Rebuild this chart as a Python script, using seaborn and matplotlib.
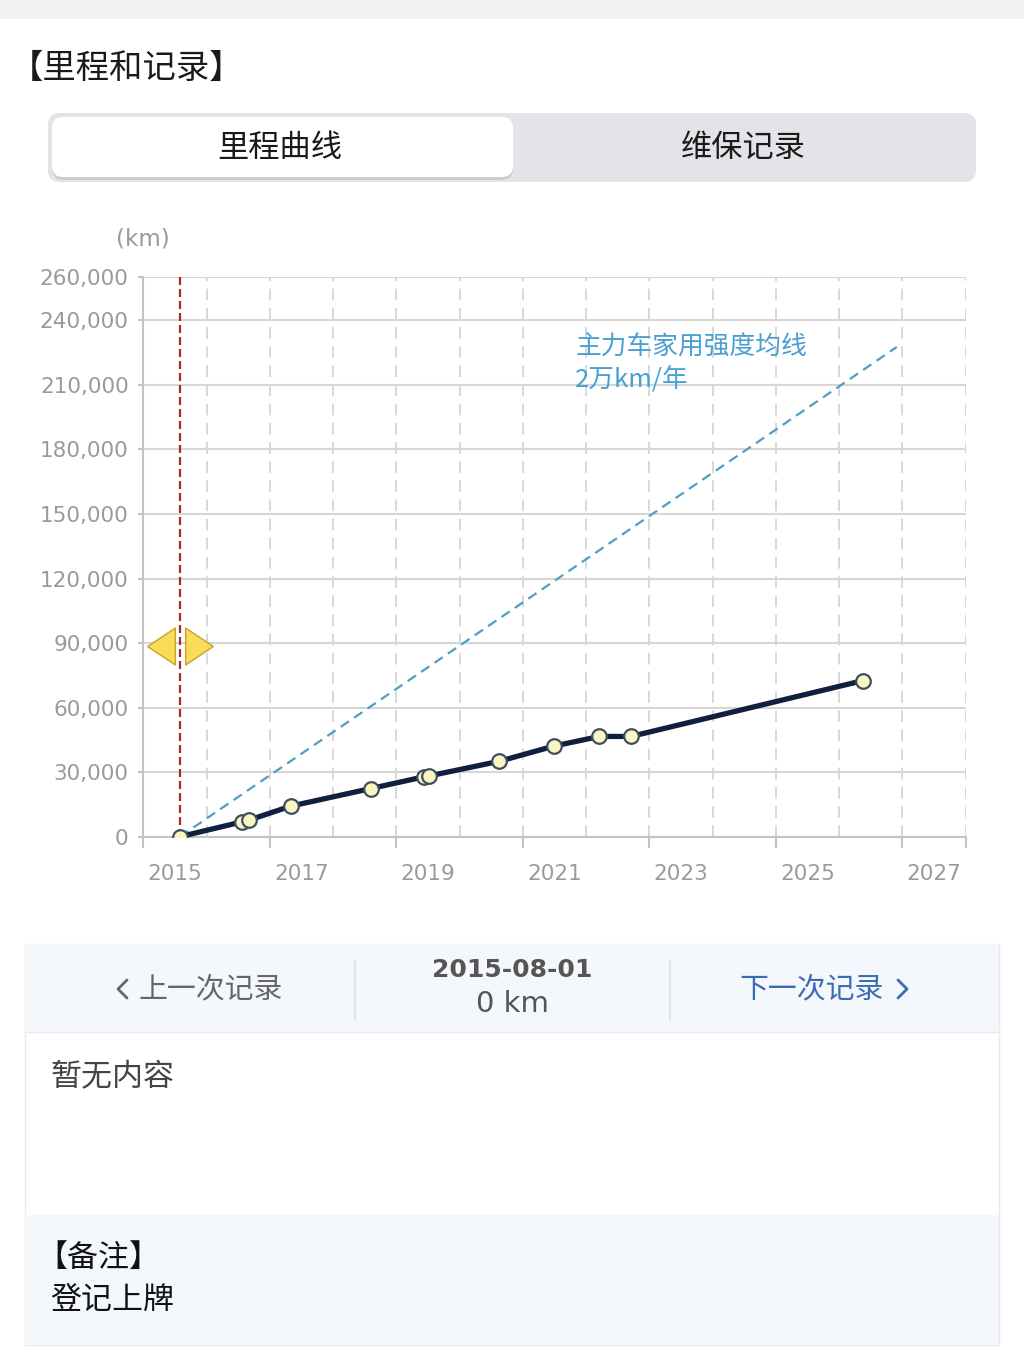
import numpy as np
import seaborn as sns
import matplotlib.pyplot as plt
import matplotlib.transforms as mtransforms
from matplotlib.patches import FancyBboxPatch, Rectangle


# mileage records (decimal year, km)
rec_year = [2015.58, 2016.56, 2016.67, 2017.33, 2018.60, 2019.43, 2019.51,
            2020.62, 2021.49, 2022.21, 2022.71, 2026.37]
rec_km = [0, 6900, 7700, 14200, 22400, 27800, 28200,
          35000, 42100, 46600, 46600, 72500]

# reference line: 20,000 km / year
avg_year = [2015.58, 2026.91]
avg_km = [0, 227600]

# selected record + drag handle height
sel_year = 2015.58
handle_km = 88600

y_ticks = [0, 30000, 60000, 90000, 120000, 150000, 180000, 210000, 240000, 260000]
x_ticks = [2015, 2017, 2019, 2021, 2023, 2025, 2027, 2028]
x_labels = ['2015', '2017', '2019', '2021', '2023', '2025', '2027', '']
grid_years = list(range(2015, 2029))


sns.set_theme(style='white')
plt.rcParams['font.family'] = ['Noto Sans CJK SC', 'DejaVu Sans']

W, H = 1024, 1370
fig = plt.figure(figsize=(W / 100, H / 100), dpi=100)
fig.patch.set_facecolor('white')

# ===== page background / UI pieces, in pixel coords =====
bg = fig.add_axes([0, 0, 1, 1], zorder=0)
bg.set_xlim(0, W)
bg.set_ylim(H, 0)
bg.axis('off')

bg.add_patch(Rectangle((0, 0), W, 19, fc='#f2f2f4', ec='none'))
bg.text(10, 68, '【里程和记录】', fontsize=24, color='#1a1a1a', va='center', ha='left')

# segmented control
bg.add_patch(FancyBboxPatch((48, 113), 928, 69, boxstyle='round,pad=0,rounding_size=12',
                            fc='#e3e3e8', ec='none'))
bg.add_patch(FancyBboxPatch((52, 120), 461, 60, boxstyle='round,pad=0,rounding_size=11',
                            fc='#c4c4c8', ec='none', alpha=0.7))
bg.add_patch(FancyBboxPatch((52, 117), 461, 60, boxstyle='round,pad=0,rounding_size=11',
                            fc='white', ec='none'))
bg.text(280, 148, '里程曲线', fontsize=22.5, color='#1a1a1a', ha='center', va='center')
bg.text(743, 148, '维保记录', fontsize=22.5, color='#1a1a1a', ha='center', va='center')

bg.text(143, 239, '(km)', fontsize=16.5, color='#9a9a9a', ha='center', va='center',
        family='DejaVu Sans')

# record panel
bg.add_patch(Rectangle((25, 944), 974, 401, fc='white', ec='#e6eaef', lw=1))
bg.add_patch(Rectangle((25, 944), 974, 88, fc='#f4f7fb', ec='none'))
bg.add_patch(Rectangle((25, 1215), 974, 130, fc='#f4f7fb', ec='none'))
bg.plot([25, 999], [1032, 1032], color='#e6eaef', lw=1)
bg.plot([355, 355], [960, 1020], color='#e2e6ec', lw=1.5)
bg.plot([670, 670], [960, 1020], color='#e2e6ec', lw=1.5)

# prev / next chevrons
bg.plot([127, 118, 127], [980, 989, 998], color='#666666', lw=2, solid_capstyle='round',
        solid_joinstyle='round')
bg.plot([898, 907, 898], [980, 989, 998], color='#3b6cb3', lw=2, solid_capstyle='round',
        solid_joinstyle='round')
bg.text(139, 989, '上一次记录', fontsize=20.8, color='#666666', ha='left', va='center')
bg.text(512, 970, '2015-08-01', fontsize=18, color='#555555', ha='center', va='center',
        family='DejaVu Sans', fontweight='bold')
bg.text(512, 1004, '0 km', fontsize=21, color='#555555', ha='center', va='center',
        family='DejaVu Sans')
bg.text(884, 989, '下一次记录', fontsize=20.8, color='#3b6cb3', ha='right', va='center')

bg.text(50, 1078, '暂无内容', fontsize=22.3, color='#444444', ha='left', va='center')
bg.text(36, 1258, '【备注】', fontsize=22.3, color='#111111', ha='left', va='center')
bg.text(50, 1300, '登记上牌', fontsize=22.3, color='#111111', ha='left', va='center')


# ===== the chart =====
ax = fig.add_axes([143.3 / W, (H - 836.7) / H, 822.4 / W, 559.4 / H], zorder=1)
ax.patch.set_alpha(0)

# average line
sns.lineplot(x=avg_year, y=avg_km, ax=ax, color='#4c9fc5', lw=1.6,
             ls=(0, (4.5, 2.8)), zorder=2)
ax.text(2021.83, 233500, '主力车家用强度均线\n2万km/年', fontsize=18.5, color='#4a9fd2',
        ha='left', va='top', linespacing=1.25)

# selected record marker line
ax.axvline(sel_year, color='#a82a2a', lw=1.6, ls=(0, (3.6, 1.8)), zorder=3)

# mileage curve
sns.lineplot(x=rec_year, y=rec_km, ax=ax, color='#0f1f3d', lw=3.8, marker='o',
             markersize=10.5, markerfacecolor='#fbf6c0', markeredgecolor='#3d4f63',
             markeredgewidth=1.6, zorder=4)

# drag handle (two yellow arrows around the red line)
left_tri = [(-0.75, 0), (0.75, 1), (0.75, -1), (-0.75, 0)]
right_tri = [(0.75, 0), (-0.75, 1), (-0.75, -1), (0.75, 0)]
shift = 0.19
ax.plot([sel_year], [handle_km], marker=left_tri, ms=26.6, mfc='#f8dc5a', mec='#c9a227',
        mew=1, ls='none', zorder=5, clip_on=False,
        transform=ax.transData + mtransforms.ScaledTranslation(-shift, 0, fig.dpi_scale_trans))
ax.plot([sel_year], [handle_km], marker=right_tri, ms=26.6, mfc='#f8dc5a', mec='#c9a227',
        mew=1, ls='none', zorder=5, clip_on=False,
        transform=ax.transData + mtransforms.ScaledTranslation(shift, 0, fig.dpi_scale_trans))

ax.set_xlim(2015, 2028)
ax.set_ylim(0, 260000)
ax.set_yticks(y_ticks, labels=[f'{v:,}' for v in y_ticks])
ax.set_xticks(x_ticks, labels=x_labels)
ax.set_xticks(grid_years, minor=True)
ax.set_xlabel('')
ax.set_ylabel('')

# dashed vertical grid every year, solid horizontal grid
ax.grid(which='both', axis='x', color='#d2d2d2', lw=1.2, ls=(0, (7, 4.5)))
ax.grid(which='major', axis='y', color='#d6d6d6', lw=1.5, ls='-')

for side in ['top', 'right']:
    ax.spines[side].set_visible(False)
for side in ['left', 'bottom']:
    ax.spines[side].set_color('#c4c4c4')
    ax.spines[side].set_linewidth(1.5)
    ax.spines[side].set_zorder(1)

ax.tick_params(axis='y', which='major', left=True, length=3.5, width=1.5, color='#c4c4c4',
               pad=7, labelsize=15.5, labelcolor='#9a9a9a')
ax.tick_params(axis='x', which='major', bottom=True, length=8, width=1.5, color='#c4c4c4',
               pad=12, labelsize=15.5, labelcolor='#9a9a9a')
ax.tick_params(axis='x', which='minor', bottom=False, length=0)
for lbl in ax.get_xticklabels() + ax.get_yticklabels():
    lbl.set_family('DejaVu Sans')

# year labels sit in the middle of the year, not on the tick
offset = mtransforms.ScaledTranslation(0.316, 0, fig.dpi_scale_trans)
for lbl in ax.get_xticklabels():
    lbl.set_transform(lbl.get_transform() + offset)

fig.savefig('out.png', dpi=100)
